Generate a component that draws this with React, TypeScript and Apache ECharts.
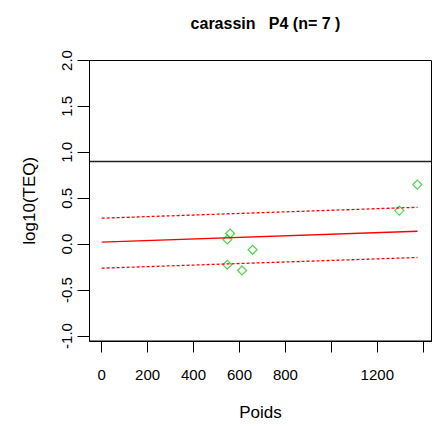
import React, { useEffect, useRef } from "react";
import * as echarts from "echarts";

const titleText = "carassin   P4 (n= 7 )";
const xName = "Poids";
const yName = "log10(TEQ)";

// observed points (Poids, log10(TEQ))
const poids = [1374, 1296, 559, 547, 657, 547, 611];
const teq = [0.649, 0.366, 0.116, 0.051, -0.061, -0.224, -0.286];

// fitted line and interval bands (x = 0 and x = end)
const fitX = [0, 1375];
const fitY = [0.022, 0.141];
const upperY = [0.283, 0.402];
const lowerY = [-0.261, -0.145];

const threshold = 0.9;

const xTicks = [0, 200, 400, 600, 800, 1000, 1200, 1400];
const xLabels = [0, 200, 400, 600, 800, 1200];
const yTicks = [-1, -0.5, 0, 0.5, 1, 1.5, 2];

const FONT = "'Liberation Sans', Arial, sans-serif";

export default function App() {
  const ref = useRef<HTMLDivElement>(null);
  useEffect(() => {
    if (!ref.current) return;
    const chart = echarts.init(ref.current, null, { renderer: "svg" });
    const pts = poids.map((x, i) => [x, teq[i]]);
    const line = (ys: number[]) => fitX.map((x, i) => [x, ys[i]]);
    chart.setOption({
      animation: false,
      backgroundColor: "#fff",
      title: {
        text: titleText,
        left: 260.5,
        top: 10,
        textAlign: "center",
        textStyle: { fontFamily: FONT, fontSize: 16, fontWeight: "bold", color: "#000" },
      },
      grid: {
        left: 89.5,
        top: 60.5,
        width: 342,
        height: 281,
        show: true,
        borderColor: "#000",
        borderWidth: 1,
        backgroundColor: "transparent",
      },
      xAxis: {
        type: "value",
        min: -53,
        max: 1436,
        name: xName,
        nameLocation: "middle",
        nameGap: 63,
        nameTextStyle: { fontFamily: FONT, fontSize: 17, color: "#000" },
        axisLine: { show: true, onZero: false, lineStyle: { color: "#000" } },
        axisTick: { show: true, length: 11.5, customValues: xTicks, lineStyle: { color: "#000" } },
        axisLabel: {
          customValues: xLabels,
          margin: 26,
          fontFamily: FONT,
          fontSize: 15,
          color: "#000",
          formatter: (v: number) => String(v),
        },
        splitLine: { show: false },
      },
      yAxis: {
        type: "value",
        min: -1.054,
        max: 2,
        name: yName,
        nameLocation: "middle",
        nameGap: 52,
        nameTextStyle: { fontFamily: FONT, fontSize: 17, color: "#000" },
        axisLine: { show: true, onZero: false, lineStyle: { color: "#000" } },
        axisTick: { show: true, length: 12, customValues: yTicks, lineStyle: { color: "#000" } },
        axisLabel: {
          customValues: yTicks,
          rotate: 90,
          margin: 16,
          fontFamily: FONT,
          fontSize: 15,
          color: "#000",
          formatter: (v: number) => v.toFixed(1),
        },
        splitLine: { show: false },
      },
      series: [
        {
          type: "line",
          data: line(fitY),
          symbol: "none",
          lineStyle: { color: "#ff0000", width: 1.3 },
          markLine: {
            silent: true,
            symbol: "none",
            label: { show: false },
            lineStyle: { color: "#222", width: 1.3, type: "solid" },
            data: [{ yAxis: threshold }],
          },
        },
        {
          type: "line",
          data: line(upperY),
          symbol: "none",
          lineStyle: { color: "#ff0000", width: 1.3, type: [3, 2] },
        },
        {
          type: "line",
          data: line(lowerY),
          symbol: "none",
          lineStyle: { color: "#ff0000", width: 1.3, type: [3, 2] },
        },
        {
          type: "scatter",
          data: pts,
          symbol: "diamond",
          symbolSize: 9,
          itemStyle: { color: "transparent", borderColor: "#22cc22", borderWidth: 1.2 },
        },
      ],
    });
    return () => chart.dispose();
  }, []);
  return (
    <div
      ref={ref}
      style={{ position: "fixed", left: 0, top: 0, width: 432, height: 426, background: "#fff" }}
    />
  );
}
